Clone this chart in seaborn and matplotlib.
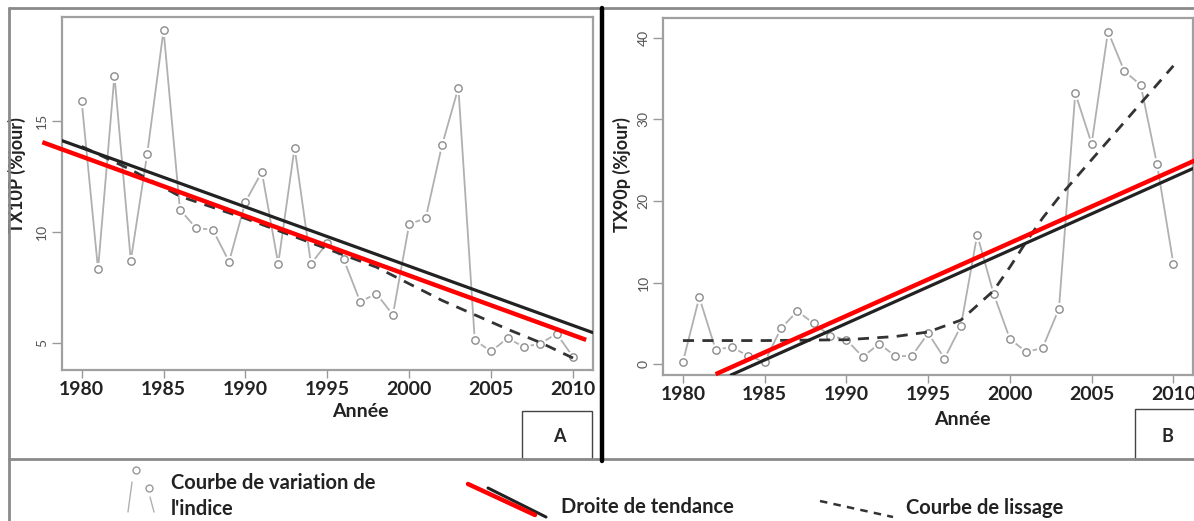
import numpy as np
import matplotlib.pyplot as plt
import seaborn as sns
from matplotlib.lines import Line2D
from matplotlib.patches import Rectangle

# Data
years = list(range(1980, 2011))
tx10p = [15.9, 8.3, 17.05, 8.7, 13.5, 19.1, 11.0, 10.15, 10.1, 8.65,
         11.35, 12.7, 8.55, 13.8, 8.55, 9.5, 8.75, 6.85, 7.2, 6.25,
         10.35, 10.6, 13.9, 16.5, 5.1, 4.6, 5.2, 4.8, 4.95, 5.4, 4.35]
tx90p = [0.3, 8.2, 1.8, 2.1, 1.0, 0.3, 4.4, 6.5, 5.0, 3.5,
         3.0, 0.9, 2.5, 1.0, 1.0, 3.8, 0.7, 4.65, 15.85, 8.65,
         3.1, 1.5, 2.0, 6.8, 33.2, 27.0, 40.75, 35.9, 34.2, 24.5, 12.3]

# smoothing curves (read at a few years)
smooth_a_years = [1980, 1983, 1986, 1990, 1994, 1998, 2002, 2006, 2008, 2010]
smooth_a_vals = [13.85, 12.8, 11.6, 10.6, 9.5, 8.4, 6.9, 5.6, 5.0, 4.3]
smooth_b_years = [1980, 1985, 1990, 1993, 1995, 1997, 1999, 2000, 2001, 2002, 2003, 2010]
smooth_b_vals = [2.9, 2.9, 3.0, 3.4, 3.95, 5.4, 9.0, 11.9, 15.0, 17.9, 20.45, 36.55]

# trend lines: black regression (values at 1980 and 2010), red overlay segments
trend_a = [13.79, 5.77]
trend_b = [-3.95, 22.9]
red_a_years, red_a_vals = [1977.6, 2010.8], [14.04, 5.12]
red_b_years, red_b_vals = [1982.0, 2011.3], [-1.22, 24.94]

W, H = 1194, 521

def px(x, y):
    return x / W, 1 - y / H

sns.set_style("white")
plt.rcParams['font.family'] = ['Lato', 'DejaVu Sans']

fig = plt.figure(figsize=(W / 100, H / 100), dpi=100)

axA = fig.add_axes([62 / W, 1 - 370 / H, (592.7 - 62) / W, (370 - 17) / H])
axB = fig.add_axes([663.3 / W, 1 - 375 / H, (1193 - 663.3) / W, (375 - 18.3) / H])


def draw_panel(ax, y, smooth_x, smooth_y, trend, red_x, red_y, ylabel, yticks):
    sns.lineplot(x=years, y=y, ax=ax, color="#b0b0b0", lw=1.3, zorder=1)
    sns.scatterplot(x=years, y=y, ax=ax, s=90, color="white", linewidth=0, zorder=2)
    sns.scatterplot(x=years, y=y, ax=ax, s=28, color="white", edgecolor="#8c8c8c",
                    linewidth=1.0, zorder=3)
    sns.lineplot(x=smooth_x, y=smooth_y, ax=ax, color="#333333", lw=2.0,
                 zorder=4).lines[-1].set_dashes([4, 3])
    ax.axline((years[0], trend[0]), (years[-1], trend[1]), color="#222222", lw=2.3, zorder=5)
    ax.plot(red_x, red_y, color="red", lw=3.2, zorder=6, clip_on=False,
            solid_capstyle="butt")
    lo, hi = min(y), max(y)
    d = hi - lo
    ax.set_ylim(lo - 0.04 * d, hi + 0.04 * d)
    ax.set_xlim(1980 - 1.2, 2010 + 1.2)
    ax.set_xticks(range(1980, 2011, 5))
    ax.set_yticks(yticks)
    ax.set_yticklabels([str(t) for t in yticks], rotation=90, va="center",
                       color="#555555", fontsize=10)
    ax.tick_params(axis="x", labelsize=14, colors="#999999", labelcolor="#222222",
                   length=6, width=1, pad=2, direction="out", bottom=True)
    ax.tick_params(axis="y", colors="#999999", labelcolor="#555555",
                   length=7, width=1, pad=3, direction="out", left=True)
    for lab in ax.get_xticklabels():
        lab.set_fontweight("bold")
    for s in ax.spines.values():
        s.set_color("#a0a0a0")
        s.set_linewidth(1.6)
    ax.set_ylabel(ylabel, fontsize=13, fontweight="bold", color="#222222")
    ax.set_xlabel("Année", fontsize=14, fontweight="bold", color="#222222")


draw_panel(axA, tx10p, smooth_a_years, smooth_a_vals, trend_a, red_a_years, red_a_vals,
           "TX10P (%jour)", [5, 10, 15])
draw_panel(axB, tx90p, smooth_b_years, smooth_b_vals, trend_b, red_b_years, red_b_vals,
           "TX90p (%jour)", [0, 10, 20, 30, 40])

axA.yaxis.set_label_coords((26 - 62) / 530.7, (370 - 175) / 353)
axA.xaxis.set_label_coords((360 - 62) / 530.7, -(403 - 370) / 353)
axB.yaxis.set_label_coords((631 - 663.3) / 529.7, (375 - 175) / 356.7)
axB.xaxis.set_label_coords((962 - 663.3) / 529.7, -(411 - 375) / 356.7)

# Frame of the composite figure
grey = "#8a8a8a"
fig.add_artist(Line2D(*zip(px(9, 8), px(W, 8)), color=grey, lw=2))
fig.add_artist(Line2D(*zip(px(9, 8), px(9, H)), color=grey, lw=2))
fig.add_artist(Line2D(*zip(px(9, 459), px(W, 459)), color=grey, lw=2))
fig.add_artist(Line2D(*zip(px(602, 8), px(602, 461)), color="black", lw=3.2))

# Panel label boxes
x0, y0 = px(522, 459)
fig.add_artist(Rectangle((x0, y0), 70 / W, 48 / H, fill=False, ec="#444444", lw=1))
fig.text(*px(559, 437), "A", ha="center", va="center", fontsize=13, fontweight="bold")
x0, y0 = px(1135, 459)
fig.add_artist(Rectangle((x0, y0), 70 / W, 50 / H, fill=False, ec="#444444", lw=1))
fig.text(*px(1167, 437), "B", ha="center", va="center", fontsize=13, fontweight="bold")

# Legend
fig.add_artist(Line2D(*zip(px(128, 512), px(132, 482)), color="#b0b0b0", lw=1))
fig.add_artist(Line2D(*zip(px(150, 497), px(154, 512)), color="#b0b0b0", lw=1))
fig.add_artist(Line2D(*zip(px(136, 470), px(149, 488)), color="#b0b0b0", lw=0, marker="o",
                      ms=5, mfc="white", mec="#999999", mew=1))
fig.text(*px(171, 483), "Courbe de variation de", ha="left", va="center",
         fontsize=14.5, fontweight="bold", color="#222222")
fig.text(*px(171, 509), "l'indice", ha="left", va="center",
         fontsize=14.5, fontweight="bold", color="#222222")

fig.add_artist(Line2D(*zip(px(488, 488), px(546, 517)), color="#222222", lw=2.2))
fig.add_artist(Line2D(*zip(px(468, 484), px(535, 515)), color="red", lw=3.2))
fig.text(*px(561, 507), "Droite de tendance", ha="left", va="center",
         fontsize=14.5, fontweight="bold", color="#222222")

fig.add_artist(Line2D(*zip(px(820, 501), px(893, 517)), color="#333333", lw=1.8,
                      dashes=[3, 2.5]))
fig.text(*px(906, 508), "Courbe de lissage", ha="left", va="center",
         fontsize=14.5, fontweight="bold", color="#222222")

plt.savefig("out.png", dpi=100)
